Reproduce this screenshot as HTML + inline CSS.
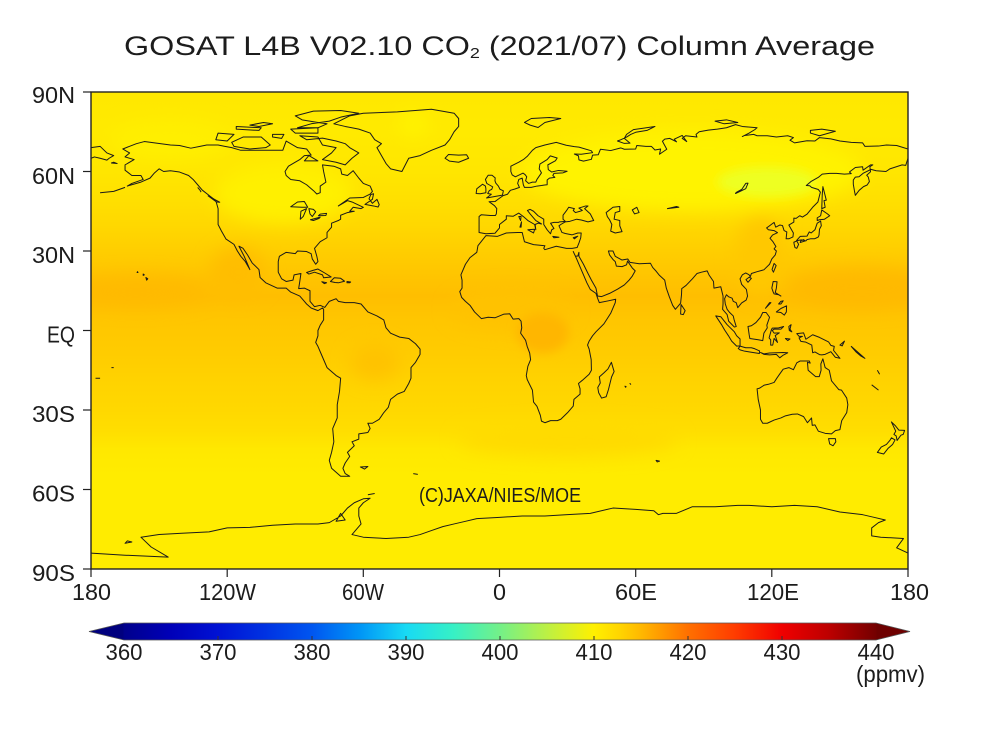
<!DOCTYPE html>
<html><head><meta charset="utf-8"><style>
html,body{margin:0;padding:0;background:#fff;}
svg{display:block;}
text{font-family:"Liberation Sans",sans-serif;fill:#1c1c1c;}
</style></head><body>
<svg width="1000" height="750" viewBox="0 0 1000 750" xmlns="http://www.w3.org/2000/svg">
<defs>
<clipPath id="mc"><rect x="91" y="92" width="817" height="477"/></clipPath>
<linearGradient id="zg" gradientUnits="userSpaceOnUse" x1="0" y1="92" x2="0" y2="569">
<stop offset="0" stop-color="#FFE800"/>
<stop offset="0.083" stop-color="#FFEA00"/>
<stop offset="0.167" stop-color="#FFE600"/>
<stop offset="0.222" stop-color="#FFE000"/>
<stop offset="0.278" stop-color="#FFD800"/>
<stop offset="0.333" stop-color="#FFCE00"/>
<stop offset="0.389" stop-color="#FFC400"/>
<stop offset="0.428" stop-color="#FFBE00"/>
<stop offset="0.472" stop-color="#FFC500"/>
<stop offset="0.528" stop-color="#FFCA00"/>
<stop offset="0.567" stop-color="#FFCE00"/>
<stop offset="0.611" stop-color="#FFD300"/>
<stop offset="0.667" stop-color="#FFD800"/>
<stop offset="0.711" stop-color="#FFDE00"/>
<stop offset="0.75" stop-color="#FFE800"/>
<stop offset="0.806" stop-color="#FFEC00"/>
<stop offset="1" stop-color="#FFEC00"/>
</linearGradient>
<linearGradient id="cb" gradientUnits="userSpaceOnUse" x1="124" y1="0" x2="876" y2="0">
<stop offset="0" stop-color="#00008C"/>
<stop offset="0.0625" stop-color="#0000B8"/>
<stop offset="0.125" stop-color="#0012D4"/>
<stop offset="0.1875" stop-color="#0032E2"/>
<stop offset="0.25" stop-color="#0056F0"/>
<stop offset="0.3125" stop-color="#0094F6"/>
<stop offset="0.375" stop-color="#18DAF4"/>
<stop offset="0.4375" stop-color="#36F0C6"/>
<stop offset="0.5" stop-color="#74F088"/>
<stop offset="0.5625" stop-color="#BCF044"/>
<stop offset="0.625" stop-color="#FFF000"/>
<stop offset="0.66" stop-color="#FFD400"/>
<stop offset="0.6875" stop-color="#FFB800"/>
<stop offset="0.75" stop-color="#FF7000"/>
<stop offset="0.8125" stop-color="#FF3C00"/>
<stop offset="0.875" stop-color="#F00000"/>
<stop offset="0.9375" stop-color="#BC0000"/>
<stop offset="1" stop-color="#740000"/>
</linearGradient>
<filter id="bl" x="-50%" y="-50%" width="200%" height="200%"><feGaussianBlur stdDeviation="9"/></filter>
<filter id="bl2" x="-50%" y="-50%" width="200%" height="200%"><feGaussianBlur stdDeviation="5"/></filter>
</defs>

<!-- Title -->
<text x="124" y="55" font-size="27" textLength="751" lengthAdjust="spacingAndGlyphs">GOSAT L4B V02.10 CO<tspan font-size="15" dy="3">2</tspan><tspan dy="-3"> (2021/07) Column Average</tspan></text>

<!-- Map field -->
<g clip-path="url(#mc)">
<rect x="91" y="92" width="817" height="477" fill="url(#zg)"/>
<g filter="url(#bl)">
<ellipse cx="692" cy="171" rx="170" ry="40" fill="#FFF300"/>
<ellipse cx="284" cy="193" rx="70" ry="30" fill="#FFF000"/>
<ellipse cx="170" cy="140" rx="60" ry="20" fill="#FFEF00"/>
<ellipse cx="413" cy="124" rx="14" ry="12" fill="#FFF400"/>
<ellipse cx="862" cy="288" rx="75" ry="20" fill="#FFB900"/>
<ellipse cx="136" cy="291" rx="75" ry="15" fill="#FFBA00"/>
<ellipse cx="238" cy="272" rx="28" ry="25" fill="#FFBD00"/>
<ellipse cx="511" cy="309" rx="60" ry="20" fill="#FFC200"/>
<ellipse cx="760" cy="255" rx="25" ry="40" fill="#FFC800"/>
<ellipse cx="375" cy="362" rx="25" ry="18" fill="#FFC200"/>
<ellipse cx="568" cy="440" rx="110" ry="16" fill="#FFDA00"/>
</g>
<g filter="url(#bl2)">
<ellipse cx="543" cy="333" rx="26" ry="20" fill="#FFB600"/>
<ellipse cx="767" cy="182" rx="50" ry="15" fill="#EEFF22"/>
</g>

<!-- Coastlines -->
<g transform="translate(499.5,330.5) scale(2.2694,-2.65)" fill="none" stroke="#1a1a1a" stroke-width="1" stroke-linejoin="round">
<path vector-effect="non-scaling-stroke" d="M-166 68.5 L-163 67 -165 65.5 -161 64.5 -165 62.5 -165 60.5 -162 58.5 -158 58.5 -157 57 -162 55.5 -164 54.5 -158 56 -154 57.5 -152 59.5 -150 61 -148 60 -145 60.3 -141 59.8 -137 58.5 -135 57 -133 55 -131 53 -128 51 -125 49 -124 46 -124 42 -124 40 -122.5 37.5 -120.5 34.5 -117 32.5 -115.5 30 -114 28 -112 26 -110 23 -111 25 -112.5 28 -114.8 31.8 -113 31 -111 28.5 -109 25.5 -106 23 -105.5 20 -103 18 -98 16 -94 16 -92 14.5 -88 13 -86 11 -85 10 -83 8.5 -80 7.5 -78 8.5 -77.5 8 -77.5 7 -77.5 4 -79 2 -80 0 -80 -2 -81 -4.5 -80 -6 -78 -10 -76 -14 -72 -17 -70 -18 -70.5 -23 -71.5 -28 -71.5 -33 -73.5 -37 -73 -42 -74 -46 -75 -49 -74 -52 -70 -55 -66 -55 -68 -54 -69 -52 -68 -50 -66 -47.5 -67 -46 -64 -43.5 -65 -42 -62 -41 -62 -39 -58 -38.5 -57 -37 -58 -35 -56 -35 -53 -33.5 -51 -31 -49 -29 -48 -26 -45 -24 -42 -23 -40 -20 -39 -18 -39 -14 -37 -12 -35 -9 -35 -7 -37 -5 -40 -3 -44 -2.5 -48 -1 -50 1 -51 4 -54 5.5 -58 7 -61 10 -64 10.5 -68 10.5 -71 11 -72 12 -75 11 -77 8.7 -79 9.5 -81.5 9 -83.5 11 -83.5 15 -86 16 -88.5 15.8 -88 18.5 -87.5 21.5 -90.5 21 -91 19 -94 18.5 -96 19.5 -97.5 22 -97.5 26 -97 28 -94 29.5 -90 29 -89 30 -85 29.8 -83 29 -82.5 27 -81 25 -80 26 -80.5 28 -81.5 31 -79 33.5 -76 35 -76 37 -74 39 -74 40.5 -71 41.5 -70 42 -70 43.5 -67 44.5 -64 45 -66 45 -64.5 46.5 -61 46 -60 46.5 -65 48.5 -67 49 -71 47 -66 50 -60 50.2 -57 51.5 -56 52.5 -57 54.5 -60 55.5 -62 57.5 -64.5 60.3 -67 58.5 -69.5 59 -70 61 -73 62 -78 62.5 -77.5 60 -77 58 -76.5 56 -79 54.5 -79 52 -80.5 51.5 -82 52.8 -85 55 -88 56.5 -92 57 -94 58.5 -94.5 60 -93 62 -90 63.5 -88 64.5 -86 66 -83 66.2 -85 68.5 -89 69 -94 71.5 -95.5 68 -98 68 -104 68 -108 68 -114 68 -118 69 -121 69.5 -124 70 -129 70 -132 69.5 -136 68.8 -141 69.8 -145 70 -152 70.8 -156.5 71.3 -160 70.5 -163 69.5 Z"/>
<path vector-effect="non-scaling-stroke" d="M-73 78 L-66 81 -60 82 -45 82.5 -30 83.5 -20 82 -18 80 -18 77 -20 75 -22 72 -24 70 -30 68 -35 66 -40 65 -43 60 -48 61 -50 63 -52 66 -54 69 -52 70.5 -55 72 -57 74.5 -62 76 -68 77 Z"/>
<path vector-effect="non-scaling-stroke" d="M-62 67 L-65 65 -68 62.5 -72 63.5 -78 64.5 -74 67 -72 69 -78 70 -80 73 -88 73.5 -85 72 -78 72.6 -72 71.5 -68 70.5 -66 69 Z M-118 71 L-117 69.5 -110 68.5 -103 69 -101 70 -105 73 -113 73 Z M-62 82 L-70 83 -82 82.8 -90 81 -87 79.5 -80 78.5 -76 78 -80 76.5 -89 76.5 -83 78 -75 79 -70 80.5 Z M-125 72 L-120 71.5 -117 74 -124 74.5 Z M-80 76.5 L-92 76 -90 74.5 -80 74.5 Z M-116 76 L-106 75.5 -105 76.5 -116 77 Z M-86 64 L-80 64 -84 66 Z M-100 73 L-96 72.5 -95 74 -100 74 Z M-110 77.5 L-104 78.5 -100 78 -106 77 Z"/>
<path vector-effect="non-scaling-stroke" d="M-92 46.7 L-89 48.5 -86 48.7 -84.5 46.5 -87 46.5 Z M-87.8 42 L-87.5 45 -85 46 -86.5 43 Z M-84 46 L-82 45.7 -81 44.8 -82.5 43 -83.5 44 Z M-83.3 41.8 L-79 42.8 -79.5 42.3 -82 41.5 Z M-79.8 43.3 L-76.5 43.4 -76.2 44.2 -79 43.9 Z"/>
<path vector-effect="non-scaling-stroke" d="M-85 21.9 L-82.2 22.7 -80 23.2 -77 21.7 -74.2 20.2 -77.5 19.9 -78 21 -81.5 22 -84 21.3 Z M-74.5 18.5 L-72.8 19.9 -70 19.7 -68.3 18.6 -71 18 -72.5 18.1 Z M-78.3 18.4 L-76.2 18 -77.2 17.7 Z M-67.2 18.5 L-65.6 18.3 -66 18 -67.2 18 Z M-155.8 20 L-155 19.5 -155.5 19 Z M-157 21.3 L-156.5 21 -157 20.8 Z M-159.5 22.2 L-159.3 21.9 -159.7 21.9 Z M-59.3 47.6 L-56 49.5 -55.5 51.6 -56.7 51.3 -57.5 49.7 -56 48 -54 49.5 -53 47.5 -53.5 46.6 -55.5 47 Z M-128.4 50.8 L-123.3 48.4 -124.7 48.5 Z M-61.3 -51.5 L-58 -51.3 -59.5 -52.3 Z M-180 69 L-176 69.5 -173 67 -170 66 -172 65 -173 64.3 -176 65 -178.5 65.5 -180 65 M-22 63.9 L-24 65 -22.5 66.4 -18 66.2 -14.5 66.3 -13.6 65 -18 63.5 Z M-170 63.5 L-168.5 63 -171 63.2 Z M-176 52 L-170 52.5 -165 54 M-133 54 L-132 53 -131.5 52.2"/>
<path vector-effect="non-scaling-stroke" d="M-9 43 L-9 39 -9 37 -6 36.5 -2 36.7 0 38.7 0 40 3 42 3 43.3 6 43.1 8.5 44.3 10.5 43 12.5 41.5 15.5 40 16 38 15.7 40 17 40.5 18.5 40.2 16 41.5 13.5 44 12.3 45.3 13.5 45.7 15 45 17 43.3 19.5 42 19.5 40 21 38 22.5 36.5 23 38 24 38.5 22.5 40.5 24 40.8 26 40.8 26.5 41 29 41.2 28 42 28 43.5 29.5 45.2 30.5 46.5 33 46 32.5 45.3 33.5 44.5 35.5 45 36.5 45.3 35 46.2 38 47 39 47 37.5 46 40 44 41.5 41.5 39 41 36 41.7 34 42 31 41.2 29 41 27 40 26.2 39.5 27 38 27.5 37 29 36.6 32 36.1 34.5 36.8 36 36.8 35.8 35 35 33 34.2 31.3 32 31 29.5 31 25 31.8 20 30.5 19.5 31 20 32 15 32.4 11 33.5 10 37 8 37 3 36.8 -1 35.5 -6 35.8 -9.5 32 -10 29.5 -13 27.5 -15 25 -17 21 -16.5 19 -16.5 16 -17.5 14.7 -16.7 12.5 -15 11 -13 9.5 -11 7 -8 4.5 -5 5 -2 4.8 2 6.2 4.5 6.3 6 4.3 8.5 4.5 9.5 3.5 9.8 1 9.3 -1 11.5 -3.7 12.2 -6 13.3 -8.5 13.7 -11 12.5 -13.5 11.8 -17 12.2 -18.5 14.5 -22.5 15 -27 16.5 -28.6 18 -32 18.5 -34.2 20 -34.8 22.5 -34 25.5 -34 27 -33.5 30 -31 32.5 -28.5 32.8 -26 35.5 -24 35.5 -22 34.8 -20 36.5 -18.8 39.5 -16.5 40.5 -15 40.4 -11 39.5 -7 38.8 -5.5 39.5 -4 41 -2 42.5 -0.5 46 2.5 49 6.5 51 10.5 51.2 11.8 48 11.2 44 10.5 43.3 12 42.5 14 40 15.5 38.5 18 37 21 35.5 24 34 27 32.5 29.8 33.5 28 34.5 28.1 35 29.5 35 28 37 25 39 21.5 40.5 19 42.5 16 43.2 13 45 12.8 48.5 14 52 15.6 55 17.2 57 18.9 58.5 20.5 59.8 22.5 58.5 23.6 56.4 26.2 56 24.8 54 24.1 51.5 24.3 51 26 50 26.8 48.5 28.5 48 30 50 30 51 28 54 26.6 56.5 27 57.5 25.7 61.6 25.2 66.5 25.4 67.5 23.8 69 22.4 70.5 20.8 72.8 19 73.5 16 74.8 12.8 76.3 9.5 77.5 8 78.5 9 79.8 10.3 80.2 13.5 80.3 15.8 82.2 17 85 19.5 87 21.5 89 22 91.5 22.5 92.3 21 94.3 18.5 94.5 16 97.5 16.5 98.5 13 98.5 10 98.3 8 100.3 6 101 3.5 103.5 1.3 104.3 1.5 103.4 4 103 5.5 101.3 6.9 100.3 8 99.5 10 99.2 12 100 13.5 101 12.7 102.5 12.2 103 11 104.3 10.5 105 8.6 106.7 10.4 108.7 11.5 109.3 13 108.8 15.5 106.7 17.4 106 19.5 107 21 108.5 21.7 110 21 110.5 20.3 111 21.5 113.5 22.2 116.5 22.9 119 25 120 27 121.5 28.5 122 30 121 30.8 121.8 31.7 120.5 33.5 119.2 34.8 120.3 36 122.5 36.9 121 37.7 118.5 38 117.7 38.7 118.5 39.2 121 40.8 121.7 39 123.5 39.8 124.7 39.6 125.4 37.7 126.6 37.2 126.3 34.6 127.5 34.6 129.3 35.3 129.5 36.8 128.3 38.6 127.5 39.8 129.7 40.9 129.7 42.4 130.7 42.3 132.3 43.3 133.5 42.8 135.5 43.9 138 46.5 140.3 48.5 141.4 52.2 140.5 53.2 137.5 54 136.7 54.6 135.2 54.7 137.2 56.2 140.5 57.8 142.2 59 145.5 59.3 148.5 59.3 152 59 155 59.2 154.2 59.8 156.8 61.5 160 61.8 160.2 60.5 163.5 62.5 164.5 62.5 163.2 61.8 163.5 59.9 161.8 58.6 162.5 57.9 163 56.2 162 54.9 160.4 54.3 158.5 52.9 156.8 51 156.4 52.7 155.9 55.2 155.9 56.8 156.8 57.9 158.4 58 160.2 59.3 163.7 60.8 166 60.3 170.3 60 172 61 177.4 62.5 179 62.3 180 65 180 68.5 175 69.8 170.5 70 167 69.6 161 69.5 160 70.8 155 71 150 71.5 146 72.3 141 72.8 139 71.5 135.5 71.6 130 70.8 128 71.8 129.5 72.8 127 73.5 122 73 118 73.5 113.5 73.5 112 74 108 73.6 107 73.2 110 74.5 112.5 75.8 113.5 76.5 107 77 104 77.7 100 76.5 96 76 92 75.6 88 75 86.6 74 87 73 82 73.5 80.5 72.5 82.5 71.3 80.5 73.6 77 72.2 78 71.2 75 72.5 72.8 72.2 71.8 71.4 73.7 68.4 70.5 66.5 71 68.5 68.5 68.1 66.9 69.5 64.5 69.5 60.5 69.8 60 68.5 55 68.4 53.5 68.9 49 67.9 44.5 68.4 43.5 66.3 41 66.2 40.5 64.6 37 63.9 35 64.4 34.8 65.9 33 66.6 36 66.5 41 67.1 40.5 67.8 35 69.2 33 69.4 29.4 69.9 25 71 20 70 16 69 14.5 68 12.2 65.7 10.5 64.5 8.5 63.5 5 62 5 60 5.6 58.7 7 58 10.4 59.4 11.3 58.8 12 58 11.5 56.5 12.8 55.5 14.5 56 16 56 16.5 57 18.5 59.5 17.5 61 17.8 62.8 21 64.5 22.4 65.9 25.4 65.1 24.7 64.1 21.3 62.5 21.5 60.7 23 59.8 26 60.4 29.8 60.1 28 59.5 24 59.3 23.5 58.5 24.4 57.8 22 57.5 21 56.8 21 55 19.9 54.9 18.5 54.7 16.5 54.5 14 54 11 54 10.5 55 10 57.5 8.5 57 8 55.5 8.8 54 6.8 53.4 4.8 52.9 3.5 51.4 1.6 50.9 -1 49.3 -1.9 48.7 -4.6 48.6 -2.2 47.1 -1.2 46 -1.4 44 -1.8 43.4 -4 43.4 -8 43.7 Z"/>
<path vector-effect="non-scaling-stroke" d="M-5.7 50 L1.3 51.1 1.7 52.7 0.2 53.3 -0.5 54.5 -1.6 55.6 -2 56.5 -1.9 57.6 -3.3 58.6 -5 58.6 -6.2 57 -5.6 55.5 -4.6 55 -3 54.2 -3.4 53.3 -4.5 52.8 -5.2 51.7 -3.6 51.4 Z M-6 52 L-6 53.5 -6.2 54.5 -7.5 55.2 -8.5 54.5 -10 53.5 -10.3 51.7 -8.5 51.6 Z M11 78.5 L14 80 22 80.4 27 80 20 78.5 17 76.6 13.5 77.5 Z M52 71.5 L55 70.6 57.5 70.7 55 72.5 56 74 59 75.8 64 76.4 68.5 77 65 75.5 60 74.8 57.8 74 56 73 53.5 72 Z M95 79 L100 79.5 105 78.5 99 78 Z M137 75.5 L142 76 148 75.2 141 73.5 137 74.5 Z M47 44.5 L50 46.5 53 46.8 53 45 51 44.5 50.5 42 53 41.5 53 39.5 54 37.3 51 36.8 49 37.5 49.5 40 48.5 41.8 47.5 43 Z M58.5 45.5 L60.5 46.5 61.5 44.5 59.5 44 Z M104 51.7 L106 52.5 108.5 53.5 109.5 55.6 108.5 55.5 106.8 53.3 104.3 52.1 Z M74 46 L79 46.5 78 46.8 Z M9 39 L9.7 41 9.5 39 Z M8.5 43 L9.5 43 9.3 41.5 Z M12.5 38 L15.5 38.2 15 36.8 Z M23.5 35.5 L26.2 35.2 24 35 Z M32.5 35 L34.5 35.6 33 34.6 Z"/>
<path vector-effect="non-scaling-stroke" d="M130.9 34 L132.5 35.5 135.5 35.6 136.5 37.2 137.3 36.8 139 38 140 40.5 141.5 41.3 141.8 39.5 141 38.2 140.8 36 140.5 35.3 139.8 35 138.8 34.6 137 34.6 135.5 34.3 135 33.8 133 34.2 131 33.9 Z M129.7 33.3 L131 33.8 131.8 32.5 131 31 130.2 31.3 129.8 32.7 Z M132.5 33.2 L134.7 33.8 134 34.3 132.8 33.9 Z M140 41.5 L141 41.8 143.2 42 145.5 43.3 144.5 44 142 45.5 141.5 43.3 140 42.5 Z M142 46 L143.5 46.5 143 49 144 49.2 142.5 54.3 142.2 51 Z M120.7 22 L121.9 24.5 121 25.3 120.1 23 Z M108.6 19.2 L110 20.1 111 19.7 109.5 18.2 Z M79.8 6.2 L80 9.8 81.8 7.5 81 6 Z M120 16 L120.6 18.5 122.3 18.4 122 16 121.5 14.3 124 13 123 13.5 121 13.8 120.6 14.5 Z M122 7 L124 8.3 126.5 9.3 126.4 7 125.5 5.8 124 6.8 Z M123 10 L124 11 125 11.2 124 10 Z M117.2 8.4 L119.6 10.5 119 10.5 Z M109.5 1.5 L110 -1.5 110.3 -3 114 -3.5 116 -3.8 116.5 -1 118 1 117.8 2 119 5 117.5 6.8 116 6.8 115 5 113 3 111 1.8 Z M95.3 5.5 L97.5 5.2 100.3 2.2 103.5 -0.5 104.5 -2 106 -3.2 106 -5.8 104.5 -5.9 102.3 -4 100.9 -2 99.2 0.2 98 2 Z M105.2 -6.8 L106 -5.9 108.5 -6.5 111 -6.5 112.5 -6.9 114.6 -7.7 114.5 -8.7 111 -8.2 108 -7.8 106 -7.3 Z M115 -8.3 L116.5 -8.8 119 -8.5 122 -8.4 125 -8.3 127 -8.4 125 -9.3 123.5 -10.3 122 -9 119 -9.2 116.5 -9 Z M119.5 -5.5 L119.5 -3.5 118.8 -2.8 119.8 0.3 120.2 0.9 123 1 125.2 1.5 124 0.5 121 0.5 120.2 0 121 -1 123.3 -0.9 121.5 -1.9 122.5 -4.5 121 -3 120.4 -5.5 Z M127.5 1.5 L128.5 2.2 128 0.5 128.8 -0.5 127.7 0 Z M126 -3 L128 -3.2 127 -3.8 Z M131 -1.2 L134 -0.9 135 -3.3 138 -1.6 141 -2.6 145 -4.3 146 -5.6 147.5 -6 147.2 -7.5 150 -10.5 148 -10.1 146 -8 143.5 -9 142 -9.2 141 -9.1 139 -8.1 138 -8.4 137.6 -5.5 135 -4.4 132.8 -4.1 132 -2.8 133.5 -2.2 132 -2.2 Z M150 -5.5 L152 -4 151 -5.8 Z M155 -6 L157 -8 159 -9.5 161 -10.5 Z M166.5 -15 L167.5 -16.5 M164 -20.5 L167 -22.5"/>
<path vector-effect="non-scaling-stroke" d="M113.5 -22 L114 -26 115 -30 115 -33.5 116 -35 118 -35 121 -33.8 124 -33 126 -32.2 129 -31.6 131.3 -31.5 134 -32.5 135.7 -34.8 137.5 -33 137.8 -35.8 139 -35.6 140.5 -38 143.5 -38.8 146.3 -39 148 -37.8 150 -37.4 150.8 -34 153 -31 153.5 -28 153 -25.5 150.7 -22.5 149.5 -22.3 146.3 -19 145.3 -15 143.5 -14 142.5 -10.7 141.6 -12.6 141.7 -15 140.9 -17.4 139.3 -17.4 136 -15 135.7 -12 136.9 -12.3 136.5 -11.5 132.5 -11.5 131 -12.2 129.5 -14.8 127.5 -14 125 -14.6 123.5 -16.4 122.2 -18 121 -19.6 118.5 -20.3 116.7 -20.6 114.5 -21.8 Z M145 -40.8 L148 -40.8 148.2 -42 147 -43.5 145.5 -42.8 Z M172.7 -34.5 L174.5 -36 176 -37.6 178.5 -37.7 177.9 -39.2 176.9 -39.5 175.2 -41.5 174.8 -39.8 173.8 -39.2 174.6 -38 Z M172.7 -40.5 L174.3 -41.3 173.2 -43 171.2 -44.5 169.3 -46.6 166.5 -46 168.2 -44 170.5 -43 172 -41.5 Z M49.3 -12 L50.5 -15.5 49.4 -17.5 48 -22.3 47 -25 45 -25.5 43.7 -23.5 43.3 -21.5 44.4 -19.8 44 -17.5 46 -16 47.8 -14.5 Z M55.3 -21 L55.8 -21.2 55.5 -21.4 Z M57.5 -20 L57.8 -20.3 Z M69 -49 L70.5 -49.3 69.5 -49.6 Z M-58 -62 L-55 -61.5 M-38 -54 L-36 -54.3 M-170 -14 L-171 -14 M-176 -18 L-178 -18"/>
<path vector-effect="non-scaling-stroke" d="M-180 -84 L-165 -84.8 -146 -85.5 -153.5 -81.7 -158 -78 -150 -77 -140 -76.5 -128 -76 -120 -74.5 -110 -74.3 -100 -73.5 -90 -73 -80 -73 -75 -72.5 -70 -70 -67 -67 -64 -65 -60 -63.5 -57 -63.3 -60 -65 -62 -67 -62 -70 -61 -73 -65 -77 -60 -78 -50 -78.5 -40 -78 -35 -77 -30 -75.5 -25 -74 -20 -73 -15 -72 -10 -71 0 -70.5 10 -70 20 -70 30 -69.5 40 -69 50 -67 60 -67.5 68 -68 70 -69.5 72 -69 78 -69 85 -66.5 95 -66.5 105 -66 110 -66 120 -66.5 130 -66 140 -66.5 150 -68.5 160 -69.5 165 -70.5 170 -71.5 167 -72.5 164 -74.5 164 -77.5 168 -78 178 -78.5 175 -82 180 -84 M-165 -80.3 L-162 -79.8 -164 -79.4 Z M-70 -69 L-68 -71.5 -72 -72 Z"/>
</g>
</g>

<!-- Frame -->
<rect x="91" y="92" width="817" height="477" fill="none" stroke="#222" stroke-width="1.4"/>
<g stroke="#222" stroke-width="1.2">
<line x1="83" y1="92" x2="91" y2="92"/>
<line x1="83" y1="171.5" x2="91" y2="171.5"/>
<line x1="83" y1="251" x2="91" y2="251"/>
<line x1="83" y1="330.5" x2="91" y2="330.5"/>
<line x1="83" y1="410" x2="91" y2="410"/>
<line x1="83" y1="489.5" x2="91" y2="489.5"/>
<line x1="83" y1="569" x2="91" y2="569"/>
<line x1="91" y1="569" x2="91" y2="577"/>
<line x1="227.2" y1="569" x2="227.2" y2="577"/>
<line x1="363.3" y1="569" x2="363.3" y2="577"/>
<line x1="499.5" y1="569" x2="499.5" y2="577"/>
<line x1="635.7" y1="569" x2="635.7" y2="577"/>
<line x1="771.8" y1="569" x2="771.8" y2="577"/>
<line x1="908" y1="569" x2="908" y2="577"/>
</g>

<!-- Y labels -->
<g font-size="23" text-anchor="end">
<text x="75" y="103" textLength="43" lengthAdjust="spacingAndGlyphs">90N</text>
<text x="75" y="184" textLength="43" lengthAdjust="spacingAndGlyphs">60N</text>
<text x="75" y="263" textLength="43" lengthAdjust="spacingAndGlyphs">30N</text>
<text x="75" y="342.5" textLength="28" lengthAdjust="spacingAndGlyphs">EQ</text>
<text x="75" y="422" textLength="43" lengthAdjust="spacingAndGlyphs">30S</text>
<text x="75" y="501.5" textLength="43" lengthAdjust="spacingAndGlyphs">60S</text>
<text x="75" y="581" textLength="43" lengthAdjust="spacingAndGlyphs">90S</text>
</g>

<!-- X labels -->
<g font-size="23" text-anchor="middle">
<text x="91.5" y="600" textLength="39" lengthAdjust="spacingAndGlyphs">180</text>
<text x="227.5" y="600" textLength="57" lengthAdjust="spacingAndGlyphs">120W</text>
<text x="363" y="600" textLength="42" lengthAdjust="spacingAndGlyphs">60W</text>
<text x="499.5" y="600" textLength="13" lengthAdjust="spacingAndGlyphs">0</text>
<text x="636" y="600" textLength="42" lengthAdjust="spacingAndGlyphs">60E</text>
<text x="773" y="600" textLength="52" lengthAdjust="spacingAndGlyphs">120E</text>
<text x="909.5" y="600" textLength="39" lengthAdjust="spacingAndGlyphs">180</text>
</g>

<!-- Copyright -->
<text x="419" y="502" font-size="20" textLength="162" lengthAdjust="spacingAndGlyphs">(C)JAXA/NIES/MOE</text>

<!-- Colorbar -->
<polygon points="89,631.5 124,623 124,640" fill="#00007E"/>
<polygon points="876,623 910,631.5 876,640" fill="#6E0000"/>
<rect x="123.5" y="623" width="753" height="17" fill="url(#cb)"/>
<polygon points="89,631.5 124,623 876,623 910,631.5 876,640 124,640" fill="none" stroke="#555" stroke-width="0.8"/>
<g stroke="#333" stroke-width="1">
<line x1="218" y1="636" x2="218" y2="640"/>
<line x1="312" y1="636" x2="312" y2="640"/>
<line x1="406" y1="636" x2="406" y2="640"/>
<line x1="500" y1="636" x2="500" y2="640"/>
<line x1="594" y1="636" x2="594" y2="640"/>
<line x1="688" y1="636" x2="688" y2="640"/>
<line x1="782" y1="636" x2="782" y2="640"/>
</g>
<g font-size="23" text-anchor="middle">
<text x="124" y="660" textLength="37" lengthAdjust="spacingAndGlyphs">360</text>
<text x="218" y="660" textLength="37" lengthAdjust="spacingAndGlyphs">370</text>
<text x="312" y="660" textLength="37" lengthAdjust="spacingAndGlyphs">380</text>
<text x="406" y="660" textLength="37" lengthAdjust="spacingAndGlyphs">390</text>
<text x="500" y="660" textLength="37" lengthAdjust="spacingAndGlyphs">400</text>
<text x="594" y="660" textLength="37" lengthAdjust="spacingAndGlyphs">410</text>
<text x="688" y="660" textLength="37" lengthAdjust="spacingAndGlyphs">420</text>
<text x="782" y="660" textLength="37" lengthAdjust="spacingAndGlyphs">430</text>
<text x="876" y="660" textLength="37" lengthAdjust="spacingAndGlyphs">440</text>
</g>
<text x="856" y="682" font-size="23" textLength="69" lengthAdjust="spacingAndGlyphs">(ppmv)</text>
</svg>
</body></html>
